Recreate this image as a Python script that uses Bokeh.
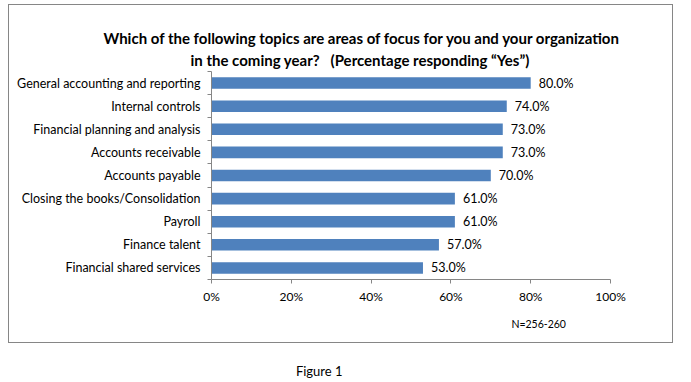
from bokeh.plotting import figure
from bokeh.models import FixedTicker, ColumnDataSource, Title, InlineStyleSheet, LinearAxis
from bokeh.core.properties import value
from bokeh.embed import file_html
from bokeh.resources import INLINE

categories = [
    "General accounting and reporting",
    "Internal controls",
    "Financial planning and analysis",
    "Accounts receivable",
    "Accounts payable",
    "Closing the books/Consolidation",
    "Payroll",
    "Finance talent",
    "Financial shared services",
]
values = [80.0, 74.0, 73.0, 73.0, 70.0, 61.0, 61.0, 57.0, 53.0]
x_ticks = [0, 20, 40, 60, 80, 100]
x_tick_labels = ["0%", "20%", "40%", "60%", "80%", "100%"]
title_lines = [
    "Which of the following topics are areas of focus for you and your organization",
    "in the coming year?\u00a0\u00a0\u00a0(Percentage responding \u201cYes\u201d)",
]
note_text = "N=256-260"
note_at = 82.0       # centre of the note, in percent along the x scale
caption_text = "Figure 1"
caption_at = 27.0    # centre of the caption, in percent along the x scale

FONT = "Lato"
n = len(categories)
ypos = [n - i - 0.5 for i in range(n)]

src = ColumnDataSource(dict(
    y=ypos, v=values, lab=[f"{v:.1f}%" for v in values], cat=categories
))

box_css = InlineStyleSheet(css="""
:host { position: relative; }
:host::after {
  content: ''; position: absolute; left: 8px; top: 4px;
  width: 665px; height: 339px; box-sizing: border-box;
  border: 1.5px solid #868686; pointer-events: none; z-index: 10;
}
""")

p = figure(width=691, height=382, x_range=(0, 100), y_range=(0, n),
           output_backend="svg", toolbar_location=None,
           min_border_left=211, min_border_right=81,
           min_border_top=71, min_border_bottom=103,
           stylesheets=[box_css])
p.outline_line_color = None
p.xgrid.visible = False
p.ygrid.visible = False
p.background_fill_color = "white"
p.border_fill_color = "white"

p.hbar(y="y", right="v", left=0, height=0.5, source=src,
       fill_color="#4F81BD", line_color=None)
p.text(x="v", y="y", text="lab", source=src, x_offset=8,
       text_font=value(FONT), text_font_size="12.5px", text_color="#000000",
       text_baseline="middle", text_align="left")

# x axis
p.xaxis.ticker = FixedTicker(ticks=x_ticks, minor_ticks=[])
p.xaxis.major_label_overrides = {t: l for t, l in zip(x_ticks, x_tick_labels)}
p.xaxis.axis_line_color = "#868686"
p.xaxis.major_tick_line_color = "#868686"
p.xaxis.major_tick_out = 4
p.xaxis.major_tick_in = 0
p.xaxis.minor_tick_line_color = None
p.xaxis.major_label_text_font = FONT
p.xaxis.major_label_text_font_size = "12px"
p.xaxis.major_label_text_color = "#000000"
p.xaxis.major_label_standoff = 5

# y axis: labels at centres, ticks at boundaries
p.yaxis.ticker = FixedTicker(ticks=ypos, minor_ticks=list(range(n + 1)))
p.yaxis.major_label_overrides = {y: c for y, c in zip(ypos, categories)}
p.yaxis.axis_line_color = "#868686"
p.yaxis.major_tick_line_color = None
p.yaxis.major_tick_out = 0
p.yaxis.major_tick_in = 0
p.yaxis.minor_tick_line_color = "#868686"
p.yaxis.minor_tick_out = 4
p.yaxis.minor_tick_in = 0
p.yaxis.major_label_text_font = FONT
p.yaxis.major_label_text_font_size = "12.5px"
p.yaxis.major_label_text_color = "#000000"
p.yaxis.major_label_standoff = 7

# title lines (closest to the frame first)
p.add_layout(Title(text=title_lines[1], text_font=FONT, text_font_style="bold",
                   text_font_size="15px", align="left", offset=190 - 211,
                   standoff=6, text_color="#000000"), "above")
p.add_layout(Title(text=title_lines[0], text_font=FONT, text_font_style="bold",
                   text_font_size="15px", align="left", offset=103 - 211,
                   standoff=-2, text_color="#000000"), "above")

# note and caption as label-only axes stacked below the main axis
def text_axis(txt, at, size, standoff):
    ax = LinearAxis(ticker=FixedTicker(ticks=[at], minor_ticks=[]),
                    major_label_overrides={at: txt})
    ax.axis_line_color = None
    ax.major_tick_line_color = None
    ax.minor_tick_line_color = None
    ax.major_tick_out = 0
    ax.major_tick_in = 0
    ax.major_label_text_font = FONT
    ax.major_label_text_font_size = size
    ax.major_label_text_color = "#000000"
    ax.major_label_standoff = standoff
    return ax

p.add_layout(text_axis(note_text, note_at, "10.5px", 11), "below")
p.add_layout(text_axis(caption_text, caption_at, "13px", 30), "below")

open("out.html", "w").write(file_html(p, INLINE))
